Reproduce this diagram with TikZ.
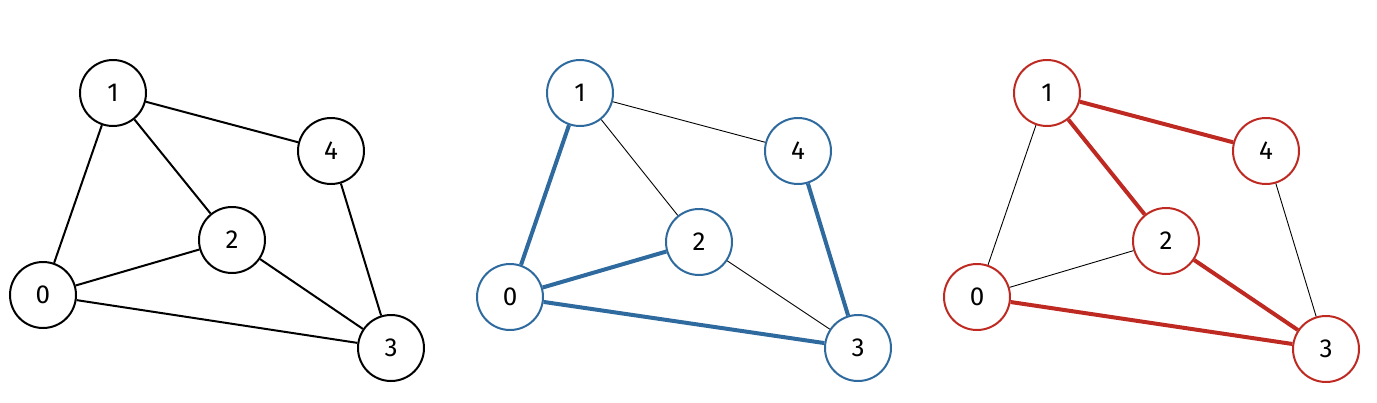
\documentclass[tikz,border=0pt]{standalone}
\usepackage{fontspec}
\setmainfont{Fira Sans}
\definecolor{gblue}{HTML}{2E6A9E}
\definecolor{gred}{HTML}{BE2A22}
\begin{document}
\begin{tikzpicture}[x=1pt,y=-1pt,
  vtx/.style={circle,draw,line width=2pt,fill=white,minimum size=66pt,inner sep=0pt,font=\fontsize{26}{28}\selectfont},
  plain/.style={line width=2pt},
  thin/.style={line width=0.9pt},
  thick/.style={line width=4pt}]
\useasboundingbox (0,0) rectangle (1377,402);
% left
\begin{scope}
\node[vtx] (a1) at (113,93) {1};
\node[vtx] (a4) at (331,151) {4};
\node[vtx] (a2) at (232,240) {2};
\node[vtx] (a0) at (43,295) {0};
\node[vtx] (a3) at (391,348) {3};
\begin{scope}[on background layer/.try]
\end{scope}
\end{scope}
\draw[plain] (a1)--(a4) (a1)--(a2) (a1)--(a0) (a0)--(a2) (a0)--(a3) (a2)--(a3) (a4)--(a3);
% middle
\node[vtx,draw=gblue] (b1) at (580,93) {1};
\node[vtx,draw=gblue] (b4) at (798,151) {4};
\node[vtx,draw=gblue] (b2) at (699,242) {2};
\node[vtx,draw=gblue] (b0) at (510,297) {0};
\node[vtx,draw=gblue] (b3) at (858,348) {3};
\draw[thin] (b1)--(b4) (b1)--(b2) (b2)--(b3);
\draw[thick,gblue] (b1)--(b0) (b0)--(b2) (b0)--(b3) (b4)--(b3);
% right
\node[vtx,draw=gred] (c1) at (1047,93) {1};
\node[vtx,draw=gred] (c4) at (1266,151) {4};
\node[vtx,draw=gred] (c2) at (1166,241) {2};
\node[vtx,draw=gred] (c0) at (977,297) {0};
\node[vtx,draw=gred] (c3) at (1326,349) {3};
\draw[thin] (c1)--(c0) (c0)--(c2) (c4)--(c3);
\draw[thick,gred] (c1)--(c4) (c1)--(c2) (c2)--(c3) (c0)--(c3);
\end{tikzpicture}
\end{document}
